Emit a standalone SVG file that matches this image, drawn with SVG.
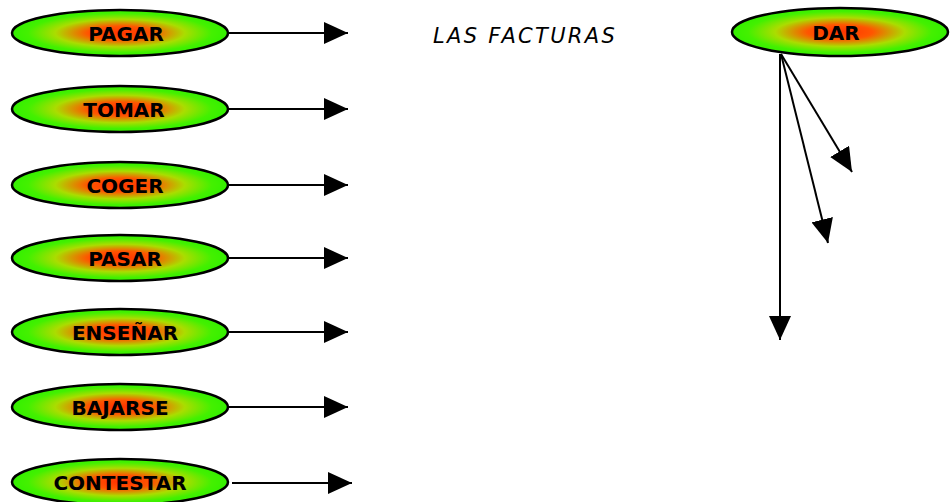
<svg xmlns="http://www.w3.org/2000/svg" width="950" height="502" viewBox="0 0 950 502">
<style>
.n ellipse{fill:url(#g);stroke:#000;stroke-width:2.5}
.n text{font-family:"DejaVu Sans",sans-serif;font-weight:bold;font-size:20px;text-anchor:middle;fill:#000}
.c line{stroke:#000;stroke-width:2;marker-end:url(#a)}
.t{font-family:"DejaVu Sans",sans-serif;font-style:italic;font-size:21px;fill:#000;letter-spacing:2.3px}
</style>
<defs>
<radialGradient id="g" cx="0.5" cy="0.5" r="0.5">
<stop offset="0" stop-color="#ff3300"/>
<stop offset="0.3" stop-color="#ff5500"/>
<stop offset="0.6" stop-color="#aadd00"/>
<stop offset="0.85" stop-color="#44f000"/>
<stop offset="1" stop-color="#33f000"/>
</radialGradient>
<marker id="a" viewBox="0 0 24 22" refX="24" refY="11" markerWidth="24" markerHeight="22" markerUnits="userSpaceOnUse" orient="auto">
<path d="M0,0 L24,11 L0,22 Z" fill="#000"/>
</marker>
</defs>
<g id="n-pagar" class="n"><ellipse cx="120" cy="33" rx="108" ry="23"/><text x="126" y="41">PAGAR</text></g>
<g id="n-tomar" class="n"><ellipse cx="120" cy="109" rx="108" ry="23"/><text x="124" y="117">TOMAR</text></g>
<g id="n-coger" class="n"><ellipse cx="120" cy="185" rx="108" ry="23"/><text x="125" y="193">COGER</text></g>
<g id="n-pasar" class="n"><ellipse cx="120" cy="258" rx="108" ry="23"/><text x="125" y="266">PASAR</text></g>
<g id="n-ensenar" class="n"><ellipse cx="120" cy="332" rx="108" ry="23"/><text x="125" y="340">ENSEÑAR</text></g>
<g id="n-bajarse" class="n"><ellipse cx="120" cy="407" rx="108" ry="23"/><text x="120" y="415">BAJARSE</text></g>
<g id="n-contestar" class="n"><ellipse cx="120" cy="482" rx="108" ry="23"/><text x="120" y="490">CONTESTAR</text></g>
<g id="n-dar" class="n"><ellipse cx="840" cy="32" rx="108" ry="24"/><text x="836" y="40">DAR</text></g>
<text id="t-facturas" class="t" x="433" y="43">LAS FACTURAS</text>
<g id="connectors" class="c">
<line x1="228" y1="33" x2="348" y2="33"/>
<line x1="228" y1="109" x2="348" y2="109"/>
<line x1="228" y1="185" x2="348" y2="185"/>
<line x1="228" y1="258" x2="348" y2="258"/>
<line x1="228" y1="332" x2="348" y2="332"/>
<line x1="228" y1="407" x2="348" y2="407"/>
<line x1="232" y1="483" x2="352" y2="483"/>
<line x1="780" y1="54" x2="780" y2="340"/>
<line x1="781" y1="54" x2="828" y2="243"/>
<line x1="781" y1="54" x2="852" y2="172"/>
</g>
</svg>
